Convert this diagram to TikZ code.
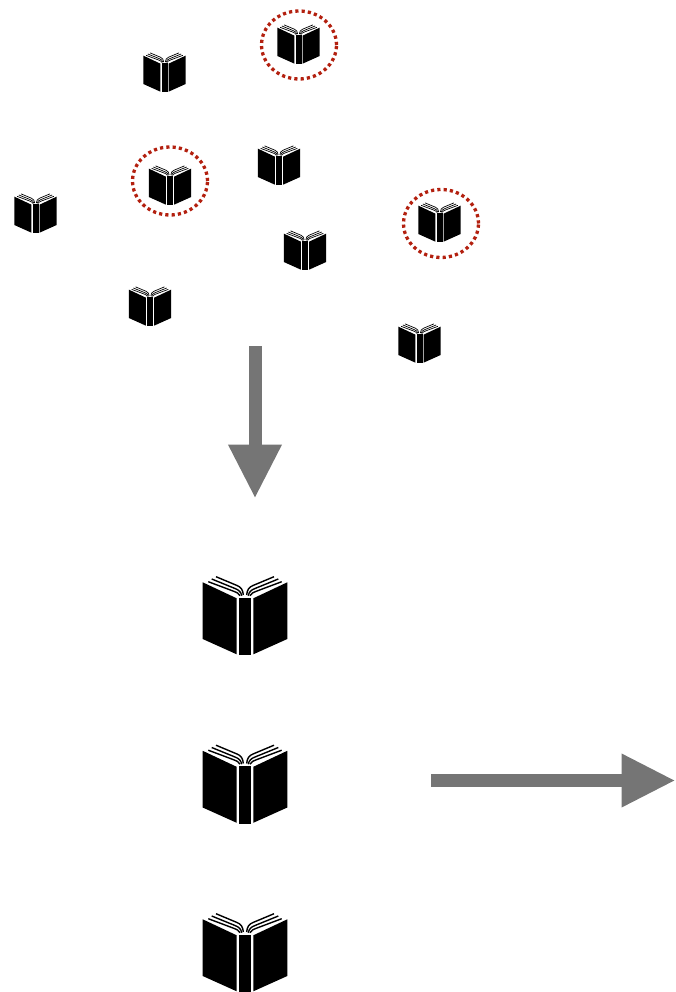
\documentclass[tikz,border=0pt]{standalone}
\usepackage{tikz}
\usetikzlibrary{arrows.meta,shapes.geometric}

\definecolor{flowgray}{HTML}{757575}
\definecolor{ringred}{HTML}{B3200F}

\begin{document}
\begin{tikzpicture}[
  x=1pt,y=-1pt,
  bookpage/.style={line width=1.4pt},
  pics/book/.style={code={
    \foreach \side in {1,-1} {
      \begin{scope}[xscale=\side]
        \fill (-42.3,-32.7) -- (-8.3,-16.7) -- (-8.3,39.3) -- (-42.3,24) -- cycle;
        \draw[bookpage] (-29,-38.3) -- (-8,-29.5) .. controls (-4,-28) and (-2,-25) .. (-1.7,-20);
        \draw[bookpage] (-33.3,-36) -- (-10,-26.5) .. controls (-6,-25) and (-4,-23) .. (-3.3,-19.3);
        \draw[bookpage] (-36.7,-33.3) -- (-12,-24) .. controls (-8,-22.5) and (-6,-21.5) .. (-5,-19.3);
      \end{scope}
    }
    \fill (-5.7,-17.3) rectangle (6,40);
  }},
  smallbook/.style={scale=0.5,bookpage/.style={line width=0.7pt}},
  flow/.style={-{Triangle[width=50pt,length=54pt]},flowgray,line width=13pt},
  ring/.style={ellipse,draw=ringred,line width=3.3pt,dash pattern=on 3.2pt off 3.1pt,
    minimum width=75pt,minimum height=68pt,inner sep=0pt}]

\useasboundingbox (0,0) rectangle (675,992);

% Scattered books
\pic[smallbook] (bookA) at (164.5,72) {book};
\pic[smallbook] (bookB) at (298.5,44) {book};
\pic[smallbook] (bookC) at (279,165) {book};
\pic[smallbook] (bookD) at (170,185) {book};
\pic[smallbook] (bookE) at (35.5,213) {book};
\pic[smallbook] (bookF) at (305,250) {book};
\pic[smallbook] (bookG) at (439.5,222) {book};
\pic[smallbook] (bookH) at (150,306) {book};
\pic[smallbook] (bookI) at (419.5,343) {book};

% Rings round the picked ones
\node[ring] (ringB) at (299,45) {};
\node[ring] (ringD) at (170,181) {};
\node[ring] (ringG) at (441,223.5) {};

% Picked books
\pic (bigA) at (245,615) {book};
\pic (bigB) at (245,783.5) {book};
\pic (bigC) at (245,952) {book};

% Arrows
\coordinate (downStart) at (255,346);
\coordinate (downEnd) at (255,498.5);
\coordinate (rightStart) at (431,780.5);
\coordinate (rightEnd) at (675.5,780.5);
\draw[flow] (downStart) -- (downEnd);
\draw[flow] (rightStart) -- (rightEnd);

\end{tikzpicture}
\end{document}
